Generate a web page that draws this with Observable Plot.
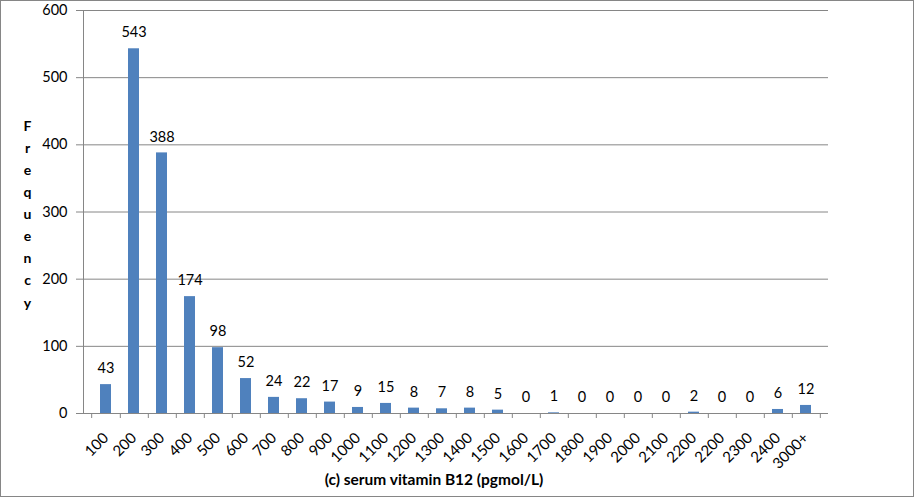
<!DOCTYPE html>
<html>
<head>
<meta charset="utf-8">
<script src="https://cdn.jsdelivr.net/npm/d3@7"></script>
<script src="https://cdn.jsdelivr.net/npm/@observablehq/plot@0.6"></script>
<style>
  html, body { margin: 0; padding: 0; background: #fff; }
  #chart { width: 915px; height: 498px; }
</style>
</head>
<body>
<div id="chart"></div>
<script>
const labels = ["100","200","300","400","500","600","700","800","900","1000","1100","1200","1300","1400","1500","1600","1700","1800","1900","2000","2100","2200","2200","2300","2400","3000+"];
const values = [43,543,388,174,98,52,24,22,17,9,15,8,7,8,5,0,1,0,0,0,0,2,0,0,6,12];
const yTicks = [0,100,200,300,400,500,600];
const xTitle = "(c) serum vitamin B12 (pgmol/L)";
const yTitle = "Frequency";

const data = labels.map((l, i) => ({i, label: l, value: values[i]}));
const idx = d3.range(labels.length);

const W = 915, H = 498;
const mL = 83, mR = 87, mT = 10, mB = 85;
const step = (W - mL - mR) / labels.length;
const grey = "#868686";

const chart = Plot.plot({
  width: W,
  height: H,
  marginLeft: mL,
  marginRight: mR,
  marginTop: mT,
  marginBottom: mB,
  style: {fontFamily: "Lato, 'Open Sans', sans-serif", fontSize: "14px", color: "#000", background: "#fff", overflow: "visible"},
  x: {type: "band", domain: idx, paddingInner: 0.6, paddingOuter: 0.3},
  y: {domain: [0, 600]},
  marks: [
    Plot.gridY(yTicks.filter(d => d > 0), {stroke: grey, strokeOpacity: 1}),
    Plot.barY(data, {x: "i", y: "value", fill: "#4F81BD"}),
    Plot.ruleY([0], {stroke: grey}),
    Plot.frame({anchor: "left", stroke: grey}),
    Plot.axisY({ticks: yTicks, tickSize: 7, tickPadding: 9, stroke: grey, label: null, fill: "#000", fontSize: 14.5}),
    Plot.axisX({ticks: idx, tickSize: 0, tickPadding: 22, tickRotate: -45, tickFormat: i => labels[i], label: null, fill: "#000", fontSize: 15}),
    Plot.axisX({ticks: idx, tickSize: 5, dx: step / 2, tickFormat: () => "", stroke: grey, label: null}),
    Plot.axisX({ticks: [0], tickSize: 5, dx: -step / 2, tickFormat: () => "", stroke: grey, label: null}),
    Plot.text(data, {x: "i", y: "value", text: d => String(d.value), dy: -16, fill: "#000", fontSize: 14.5}),
    Plot.text([xTitle], {frameAnchor: "bottom", dx: -22, dy: 71, text: d => d, fontWeight: "bold", fontSize: 15.5, fill: "#000"}),
    Plot.text([yTitle.split("").join("\n")], {frameAnchor: "left", dx: -56, text: d => d, textAnchor: "middle", lineHeight: 1.58, fontWeight: "bold", fontSize: 14, fill: "#000"})
  ]
});

d3.select(chart).append("rect")
  .attr("x", 0.5).attr("y", 0.5)
  .attr("width", W - 2).attr("height", H - 2)
  .attr("fill", "none").attr("stroke", grey);

document.getElementById("chart").appendChild(chart);
</script>
</body>
</html>
